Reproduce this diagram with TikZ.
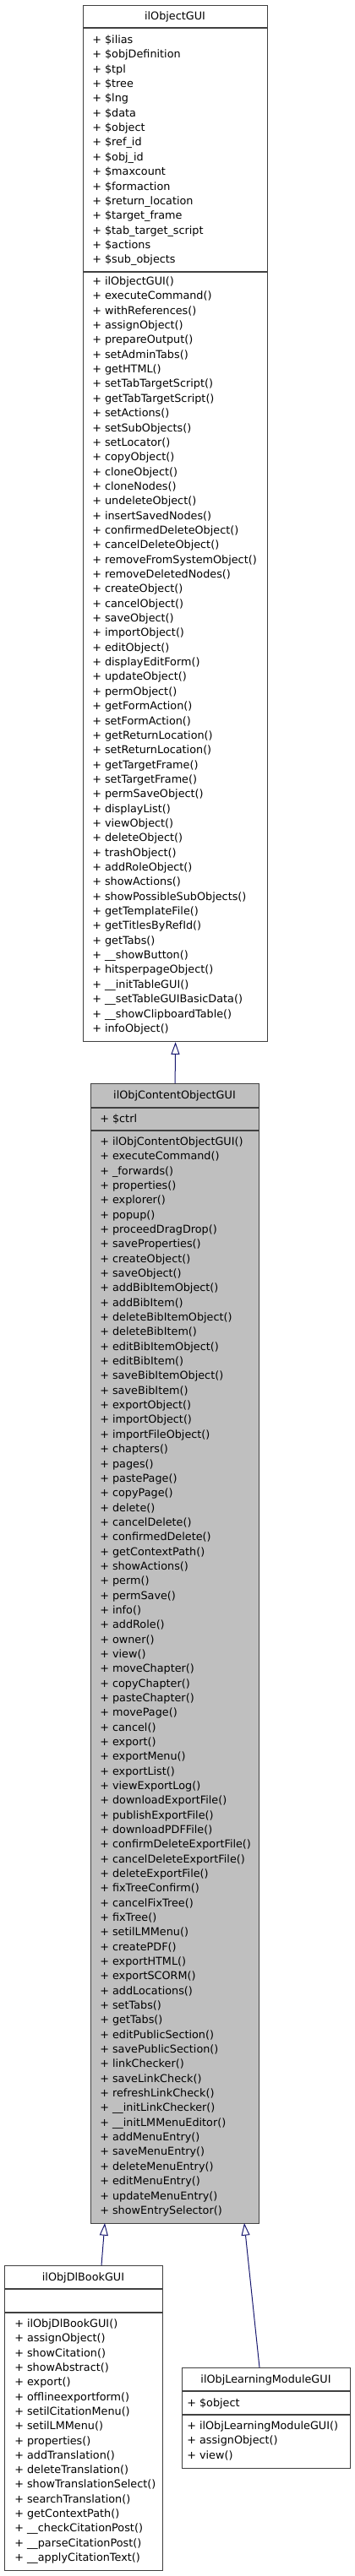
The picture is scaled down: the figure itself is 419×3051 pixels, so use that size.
\documentclass[tikz,border=0pt]{standalone}
\usepackage{fontspec}
\setmainfont{DejaVu Sans}
\usetikzlibrary{arrows.meta}
\definecolor{edgeblue}{HTML}{191970}
\definecolor{boxline}{HTML}{404040}
\definecolor{boxfill}{HTML}{BFBFBF}
\tikzset{
  classbox/.style={draw=boxline, line width=0.9pt, inner sep=0pt, anchor=north west},
  sepline/.style={draw=boxline, line width=0.9pt},
  mem/.style={font={\fontsize{9.6}{11}\selectfont}, inner sep=0pt, anchor=base west},
  ttl/.style={font={\fontsize{9.6}{11}\selectfont}, inner sep=0pt, anchor=base},
  inh/.style={draw=edgeblue, line width=0.75pt, -{Triangle[open, length=11pt, width=7.5pt]}},
}
\begin{document}
\begin{tikzpicture}[x=0.75pt,y=-0.75pt]
\useasboundingbox (0,0) rectangle (419,3051);
% ---------- ilObjectGUI ----------
\node[classbox, fill=white, minimum width=218*0.75pt, minimum height=1227*0.75pt] (b1) at (98,6) {};
\draw[sepline] (98,33) -- (316,33);
\draw[sepline] (98,322) -- (316,322);
\node[ttl] (t1) at (207,24) {ilObjectGUI};
\foreach \t [count=\i] in {\$ilias,\$objDefinition,\$tpl,\$tree,\$lng,\$data,\$object,\$ref\_id,\$obj\_id,\$maxcount,\$formaction,\$return\_location,\$target\_frame,\$tab\_target\_script,\$actions,\$sub\_objects}
  \node[mem] (a1-\i) at (109,{51.5+17.35*(\i-1)}) {+ \t};
\foreach \t [count=\i] in {ilObjectGUI(),executeCommand(),withReferences(),assignObject(),prepareOutput(),setAdminTabs(),getHTML(),setTabTargetScript(),getTabTargetScript(),setActions(),setSubObjects(),setLocator(),copyObject(),cloneObject(),cloneNodes(),undeleteObject(),insertSavedNodes(),confirmedDeleteObject(),cancelDeleteObject(),removeFromSystemObject(),removeDeletedNodes(),createObject(),cancelObject(),saveObject(),importObject(),editObject(),displayEditForm(),updateObject(),permObject(),getFormAction(),setFormAction(),getReturnLocation(),setReturnLocation(),getTargetFrame(),setTargetFrame(),permSaveObject(),displayList(),viewObject(),deleteObject(),trashObject(),addRoleObject(),showActions(),showPossibleSubObjects(),getTemplateFile(),getTitlesByRefId(),getTabs(),\_\_showButton(),hitsperpageObject(),\_\_initTableGUI(),\_\_setTableGUIBasicData(),\_\_showClipboardTable(),infoObject()}
  \node[mem] (m1-\i) at (109,{337.5+17.35*(\i-1)}) {+ \t};
% ---------- ilObjContentObjectGUI ----------
\node[classbox, fill=boxfill, minimum width=199*0.75pt, minimum height=1350*0.75pt] (b2) at (107,1283) {};
\draw[sepline] (107,1312) -- (306,1312);
\draw[sepline] (107,1339) -- (306,1339);
\node[ttl] (t2) at (206.5,1301.5) {ilObjContentObjectGUI};
\node[mem] (a2-1) at (118,1329.5) {+ \$ctrl};
\foreach \t [count=\i] in {ilObjContentObjectGUI(),executeCommand(),\_forwards(),properties(),explorer(),popup(),proceedDragDrop(),saveProperties(),createObject(),saveObject(),addBibItemObject(),addBibItem(),deleteBibItemObject(),deleteBibItem(),editBibItemObject(),editBibItem(),saveBibItemObject(),saveBibItem(),exportObject(),importObject(),importFileObject(),chapters(),pages(),pastePage(),copyPage(),delete(),cancelDelete(),confirmedDelete(),getContextPath(),showActions(),perm(),permSave(),info(),addRole(),owner(),view(),moveChapter(),copyChapter(),pasteChapter(),movePage(),cancel(),export(),exportMenu(),exportList(),viewExportLog(),downloadExportFile(),publishExportFile(),downloadPDFFile(),confirmDeleteExportFile(),cancelDeleteExportFile(),deleteExportFile(),fixTreeConfirm(),cancelFixTree(),fixTree(),setilLMMenu(),createPDF(),exportHTML(),exportSCORM(),addLocations(),setTabs(),getTabs(),editPublicSection(),savePublicSection(),linkChecker(),saveLinkCheck(),refreshLinkCheck(),\_\_initLinkChecker(),\_\_initLMMenuEditor(),addMenuEntry(),saveMenuEntry(),deleteMenuEntry(),editMenuEntry(),updateMenuEntry(),showEntrySelector()}
  \node[mem] (m2-\i) at (118,{1356.5+17.34*(\i-1)}) {+ \t};
% ---------- ilObjDlBookGUI ----------
\node[classbox, fill=white, minimum width=187*0.75pt, minimum height=361*0.75pt] (b3) at (5,2683) {};
\draw[sepline] (5,2711) -- (192,2711);
\draw[sepline] (5,2739) -- (192,2739);
\node[ttl] (t3) at (98.5,2701.5) {ilObjDlBookGUI};
\foreach \t [count=\i] in {ilObjDlBookGUI(),assignObject(),showCitation(),showAbstract(),export(),offlineexportform(),setilCitationMenu(),setilLMMenu(),properties(),addTranslation(),deleteTranslation(),showTranslationSelect(),searchTranslation(),getContextPath(),\_\_checkCitationPost(),\_\_parseCitationPost(),\_\_applyCitationText()}
  \node[mem] (m3-\i) at (17,{2756.5+17.31*(\i-1)}) {+ \t};
% ---------- ilObjLearningModuleGUI ----------
\node[classbox, fill=white, minimum width=199*0.75pt, minimum height=119*0.75pt] (b4) at (215,2804) {};
\draw[sepline] (215,2832) -- (414,2832);
\draw[sepline] (215,2860) -- (414,2860);
\node[ttl] (t4) at (314.5,2822.5) {ilObjLearningModuleGUI};
\node[mem] (a4-1) at (221,2850.5) {+ \$object};
\foreach \t [count=\i] in {ilObjLearningModuleGUI(),assignObject(),view()}
  \node[mem] (m4-\i) at (221,{2877.5+17.35*(\i-1)}) {+ \t};
% ---------- inheritance ----------
\coordinate (e2s) at (120,2683);
\coordinate (e2t) at (124,2633);
\coordinate (e3s) at (307,2804);
\coordinate (e3t) at (289,2633);
\draw[inh] (b2.north) -- (b1.south);
\draw[inh] (e2s) -- (e2t);
\draw[inh] (e3s) -- (e3t);
\end{tikzpicture}
\end{document}
